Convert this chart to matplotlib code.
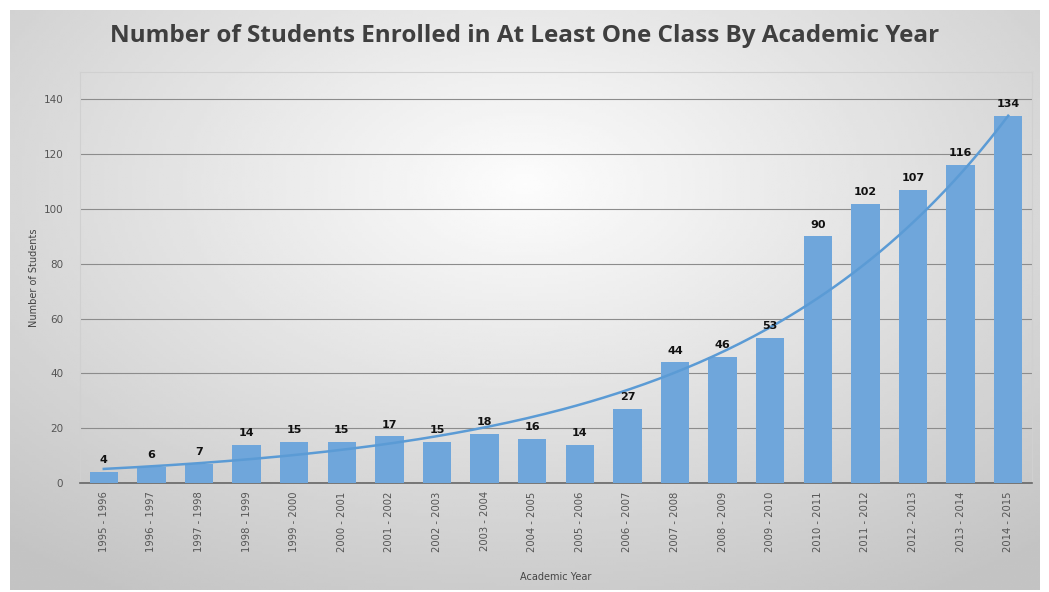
import matplotlib
matplotlib.use("Agg")
import matplotlib.pyplot as plt
import numpy as np

# academic years and enrolment counts
years = ["1995 - 1996", "1996 - 1997", "1997 - 1998", "1998 - 1999", "1999 - 2000",
         "2000 - 2001", "2001 - 2002", "2002 - 2003", "2003 - 2004", "2004 - 2005",
         "2005 - 2006", "2006 - 2007", "2007 - 2008", "2008 - 2009", "2009 - 2010",
         "2010 - 2011", "2011 - 2012", "2012 - 2013", "2013 - 2014", "2014 - 2015"]
students = [4, 6, 7, 14, 15, 15, 17, 15, 18, 16, 14, 27, 44, 46, 53, 90, 102, 107, 116, 134]
yticks = [0, 20, 40, 60, 80, 100, 120, 140]

fig = plt.figure(figsize=(10.49, 5.92), dpi=100)
fig.patch.set_facecolor("white")

# gray panel with a soft radial gradient (lighter in the middle)
bg = fig.add_axes([10/1049, 2/592, 1030/1049, 580/592])
gx, gy = np.meshgrid(np.linspace(-1, 1, 300), np.linspace(-1, 1, 200))
r = np.sqrt((gx*0.85)**2 + ((gy+0.4)*0.8)**2)
shade = 0.99 - 0.17*np.clip(r, 0, 1.3)
bg.imshow(shade, cmap="gray", vmin=0, vmax=1, aspect="auto", extent=[0, 1, 0, 1])
bg.set_axis_off()

ax = fig.add_axes([80/1049, 1 - 483/592, 952/1049, 411/592])
ax.patch.set_alpha(0)

x = np.arange(len(years))
ax.bar(x, students, width=0.6, color="#6fa6db", zorder=3)

# exponential trend line (least squares on log values, like Excel)
b, a = np.polyfit(x + 1, np.log(students), 1)
xt = np.linspace(0, len(years) - 1, 200)
ax.plot(xt, np.exp(a + b*(xt + 1)), color="#5b9bd5", lw=1.8, zorder=4)

for xi, v in zip(x, students):
    ax.text(xi, v + 2.5, str(v), ha="center", va="bottom", fontsize=8,
            fontweight="bold", color="#111111", zorder=5)

ax.set_xlim(-0.5, len(years) - 0.5)
ax.set_ylim(0, 150)
ax.set_yticks(yticks)
ax.set_xticks(x)
ax.set_xticklabels(years, rotation=90, fontsize=7.2, color="#555555")
ax.tick_params(axis="y", labelsize=7.5, labelcolor="#555555", length=0, pad=12)
ax.tick_params(axis="x", length=0, pad=6)
ax.yaxis.grid(True, color="#8c8c8c", lw=0.8, zorder=0)
ax.set_axisbelow(True)
for s in ["top", "right", "left"]:
    ax.spines[s].set_color("#d0d0d0")
    ax.spines[s].set_linewidth(0.8)
ax.spines["bottom"].set_color("#666666")
ax.spines["bottom"].set_linewidth(1.2)

ax.set_ylabel("Number of Students", fontsize=7, color="#444444", labelpad=3)
ax.set_xlabel("Academic Year", fontsize=7, color="#444444", labelpad=14)

fig.text(0.5, 1 - 36/592, "Number of Students Enrolled in At Least One Class By Academic Year",
         ha="center", va="center", fontsize=17.5, fontweight="bold", color="#3f3f3f",
         family="Open Sans")

fig.savefig("out.png", dpi=100)
